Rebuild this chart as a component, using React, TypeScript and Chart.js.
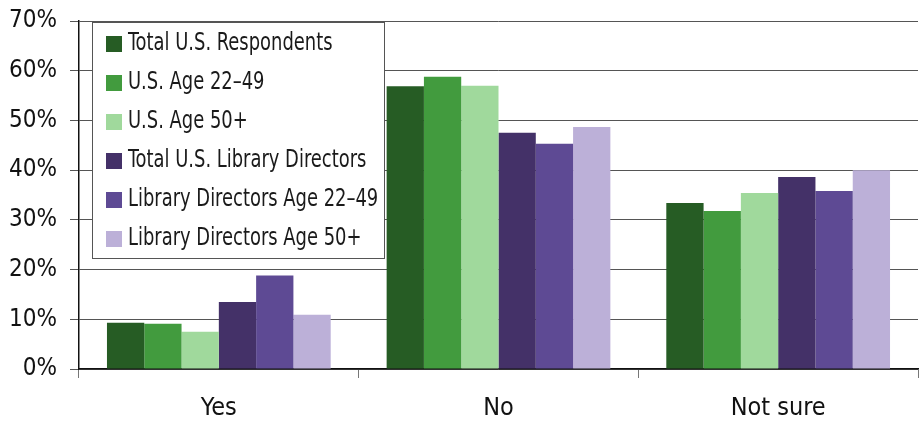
import React, { useEffect, useRef } from "react";
import { Chart, registerables } from "chart.js";

Chart.register(...registerables);

const categories = ["Yes", "No", "Not sure"];

const seriesLabels = [
  "Total U.S. Respondents",
  "U.S. Age 22–49",
  "U.S. Age 50+",
  "Total U.S. Library Directors",
  "Library Directors Age 22–49",
  "Library Directors Age 50+",
];

const totalUS = [9.3, 56.9, 33.4];
const usAge22to49 = [9.1, 58.8, 31.8];
const usAge50plus = [7.5, 57.0, 35.4];
const totalDirectors = [13.5, 47.5, 38.6];
const directorsAge22to49 = [18.8, 45.3, 35.8];
const directorsAge50plus = [10.9, 48.7, 40.0];

const yTicks = [0, 10, 20, 30, 40, 50, 60, 70];

const seriesColors = ["#265c24", "#429b3e", "#a0d99c", "#443168", "#5e4a94", "#bcb0d8"];

const FONT = "'Liberation Sans Narrow', 'DejaVu Sans Condensed', 'Liberation Sans', sans-serif";

// Legend drawn as a white, bordered box sitting inside the plot area
const boxedLegend = {
  id: "boxedLegend",
  afterDraw(chart: any) {
    const { ctx, chartArea } = chart;
    const left = chartArea.left + 13;
    const top = chartArea.top + 1;
    const width = 293;
    const height = 237;
    ctx.save();
    ctx.fillStyle = "#ffffff";
    ctx.fillRect(left, top, width, height);
    ctx.strokeStyle = "#555555";
    ctx.lineWidth = 1;
    ctx.strokeRect(left + 0.5, top + 0.5, width - 1, height - 1);
    ctx.font = `24px ${FONT}`;
    ctx.textBaseline = "middle";
    chart.data.datasets.forEach((ds: any, i: number) => {
      const cy = top + 22 + i * 39;
      ctx.fillStyle = ds.backgroundColor;
      ctx.fillRect(left + 14, cy - 8, 16, 16);
      ctx.fillStyle = "#1a1a1a";
      // labels set in a condensed face
      ctx.save();
      ctx.translate(left + 36, cy);
      ctx.scale(0.83, 1);
      ctx.fillText(ds.label, 0, 0);
      ctx.restore();
    });
    ctx.restore();
  },
};

export default function App() {
  const canvasRef = useRef<HTMLCanvasElement | null>(null);

  useEffect(() => {
    document.body.style.margin = "0";
    const values = [totalUS, usAge22to49, usAge50plus, totalDirectors, directorsAge22to49, directorsAge50plus];
    const chart = new Chart(canvasRef.current as HTMLCanvasElement, {
      type: "bar",
      data: {
        labels: categories,
        datasets: seriesLabels.map((label, i) => ({
          label,
          data: values[i],
          backgroundColor: seriesColors[i],
          borderWidth: 0,
          categoryPercentage: 0.8,
          barPercentage: 1.0,
        })),
      },
      options: {
        responsive: false,
        animation: false,
        layout: { padding: { top: 21, right: 1, left: 0, bottom: 0 } },
        plugins: {
          legend: { display: false },
          tooltip: { enabled: false },
        },
        scales: {
          x: {
            afterFit: (scale: any) => {
              scale.height = 52;
            },
            grid: {
              offset: true,
              drawOnChartArea: false,
              drawTicks: true,
              tickLength: 9,
              color: (c: any) => (c.index >= categories.length ? "rgba(0,0,0,0)" : "#777777"),
            },
            border: { display: true, color: "#111111", width: 1.5 },
            ticks: {
              color: "#111111",
              font: { family: FONT, size: 25 },
              padding: 15,
            },
          },
          y: {
            min: 0,
            max: 70,
            afterFit: (scale: any) => {
              scale.width = 79;
              scale.paddingTop = 0;
              scale.paddingBottom = 0;
            },
            afterBuildTicks: (scale: any) => {
              scale.ticks = yTicks.map((v) => ({ value: v }));
            },
            grid: {
              color: "#555555",
              lineWidth: 1,
              tickLength: 9,
            },
            border: { display: true, color: "#111111", width: 1.5 },
            ticks: {
              color: "#111111",
              font: { family: FONT, size: 24 },
              padding: 13,
              callback: (v: any) => `${v}%`,
            },
          },
        },
      },
      plugins: [boxedLegend],
    });
    return () => chart.destroy();
  }, []);

  return (
    <div style={{ width: 919, height: 421 }}>
      <canvas ref={canvasRef} width={919} height={421} style={{ display: "block" }} />
    </div>
  );
}
